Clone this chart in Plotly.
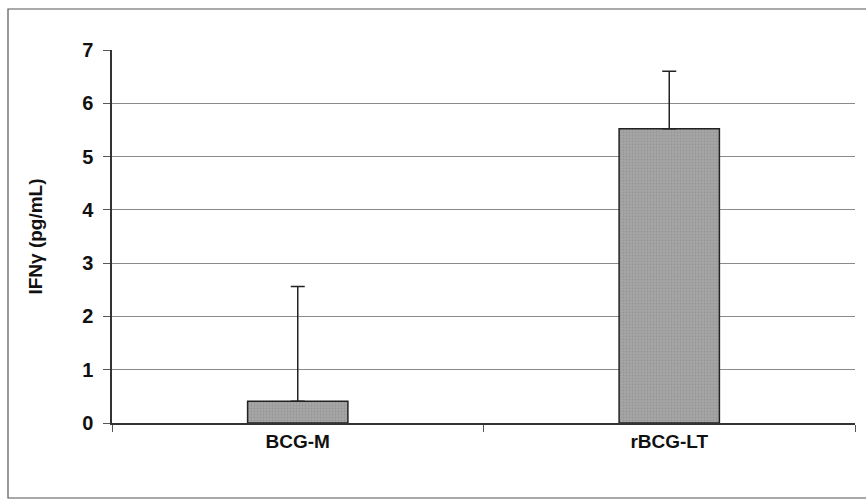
import plotly.graph_objects as go

categories = ["BCG-M", "rBCG-LT"]
values = [0.41, 5.52]
err_plus = [2.15, 1.08]
y_ticks = [0, 1, 2, 3, 4, 5, 6, 7]

W, H = 866, 501
L, R, T, B = 112, 11, 50, 78
pw, ph = W - L - R, H - T - B

def px(x):
    return (x - L) / pw

def py(y):
    return (H - B - y) / ph

FONT = "Arial, Liberation Sans, sans-serif"

fig = go.Figure()
fig.add_trace(go.Bar(
    x=categories, y=values, width=0.27,
    marker=dict(color="#a3a3a3", line=dict(color="#222222", width=1.5),
                pattern=dict(shape=".", fgcolor="#858585", bgcolor="#a6a6a6", size=3, solidity=0.3)),
    error_y=dict(type="data", array=err_plus, arrayminus=[0, 0], symmetric=False,
                 color="#222222", thickness=1.5, width=7),
))

fig.update_layout(
    width=W, height=H,
    margin=dict(l=L, r=R, t=T, b=B),
    paper_bgcolor="white", plot_bgcolor="white",
    showlegend=False,
    font=dict(family=FONT, color="#111111"),
    shapes=[dict(type="rect", xref="paper", yref="paper",
                 x0=px(8), x1=px(872), y0=py(498), y1=py(9),
                 line=dict(color="#555555", width=1.2), fillcolor="rgba(0,0,0,0)", layer="below")],
)
fig.update_xaxes(
    showline=True, linecolor="#333333", linewidth=1.5,
    ticks="outside", ticklen=7, tickcolor="#555555",
    tickson="boundaries",
    tickvals=categories, ticktext=["<b>" + c + "</b>" for c in categories],
    tickfont=dict(size=19, family=FONT, color="#111111"),
    showgrid=False, range=[-0.5, 1.5],
)
fig.update_yaxes(
    range=[0, 7], tickvals=y_ticks, ticktext=[f"<b>{v}</b>" for v in y_ticks],
    showline=True, linecolor="#333333", linewidth=1.5,
    ticks="outside", ticklen=7, tickcolor="#555555",
    ticklabelstandoff=6,
    showgrid=True, gridcolor="#8a8a8a", gridwidth=1,
    zeroline=False,
    tickfont=dict(size=20, family=FONT, color="#111111"),
    title=dict(text="<b>IFNγ (pg/mL)</b>", font=dict(size=19, family=FONT), standoff=34),
)
fig.write_html("out.html")
